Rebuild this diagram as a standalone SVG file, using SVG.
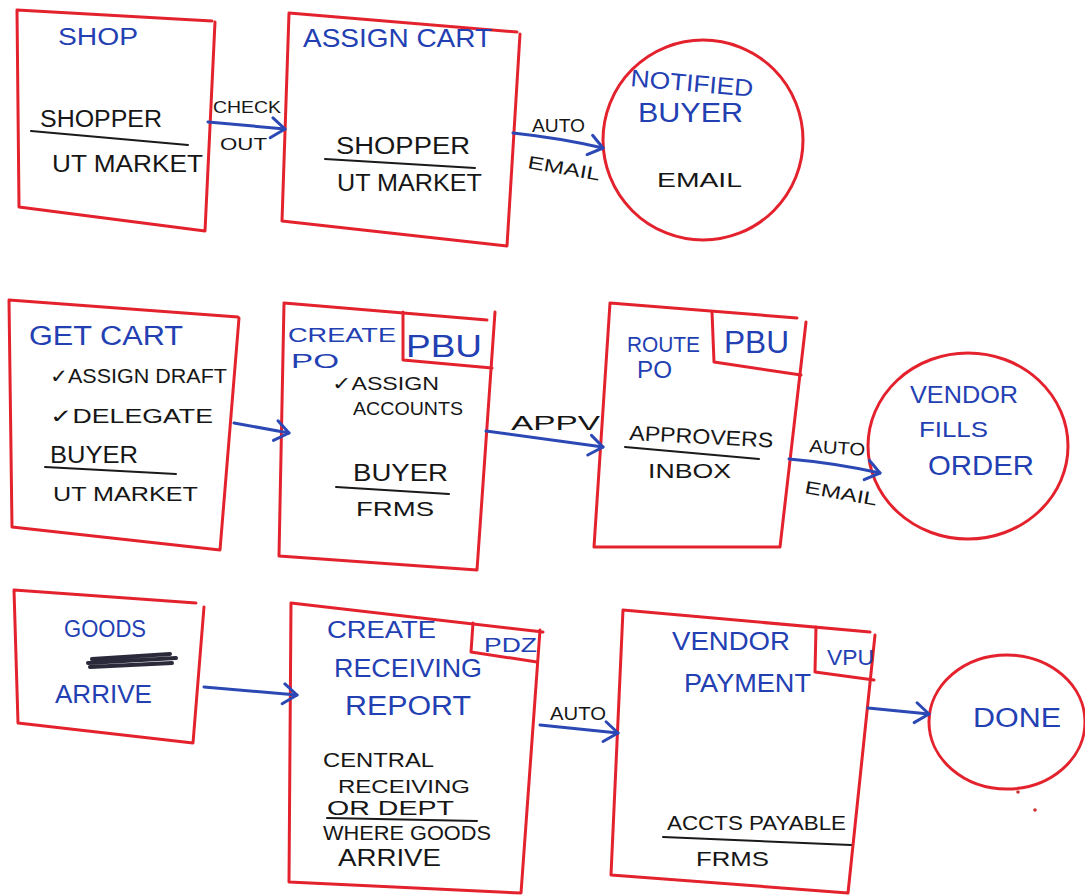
<svg xmlns="http://www.w3.org/2000/svg" width="1085" height="896" viewBox="0 0 1085 896">
<defs>
<style>
.box{fill:none;stroke:#e3222d;stroke-width:3;stroke-linejoin:round;stroke-linecap:round}
.ul{fill:none;stroke:#1a1a1a;stroke-width:2;stroke-linecap:round}
.con{fill:none;stroke:#2b48b5;stroke-width:3;stroke-linecap:round}
text{font-family:"Liberation Sans","DejaVu Sans",sans-serif}
.b{fill:#2340b3}
.k{fill:#161616}
</style>
<marker id="ah" viewBox="0 0 20 24" refX="18" refY="12" markerWidth="20" markerHeight="24" markerUnits="userSpaceOnUse" orient="auto">
<path d="M5,2 L18,12 L4,22" fill="none" stroke="#2b48b5" stroke-width="3" stroke-linecap="round" stroke-linejoin="round"/>
</marker>
</defs>
<rect width="1085" height="896" fill="#ffffff"/>

<g id="shop">
<path class="box" d="M17,10 L212,21 M215,22 L205,231 L19,207 L17,10"/>
<text class="b" x="58" y="45" font-size="23" textLength="80" lengthAdjust="spacingAndGlyphs">SHOP</text>
<text class="k" x="40" y="127" font-size="23" textLength="122" lengthAdjust="spacingAndGlyphs">SHOPPER</text>
<path class="ul" d="M31,131 L188,145"/>
<text class="k" x="52" y="172" font-size="23" textLength="151" lengthAdjust="spacingAndGlyphs">UT MARKET</text>
</g>

<g id="assign-cart">
<path class="box" d="M289,13 L517,32 M520,34 L507,246 L282,221 L289,13"/>
<text class="b" x="303" y="47" font-size="26" textLength="189" lengthAdjust="spacingAndGlyphs">ASSIGN CART</text>
<text class="k" x="336" y="154" font-size="23" textLength="134" lengthAdjust="spacingAndGlyphs">SHOPPER</text>
<path class="ul" d="M325,159 L475,168"/>
<text class="k" x="337" y="191" font-size="23" textLength="145" lengthAdjust="spacingAndGlyphs">UT MARKET</text>
</g>

<g id="notified-buyer">
<ellipse class="box" cx="703" cy="140" rx="100" ry="100"/>
<text class="b" x="630" y="86" font-size="24" textLength="123" lengthAdjust="spacingAndGlyphs" transform="rotate(5 630 86)">NOTIFIED</text>
<text class="b" x="638" y="122" font-size="27" textLength="105" lengthAdjust="spacingAndGlyphs">BUYER</text>
<text class="k" x="657" y="187" font-size="20" textLength="85" lengthAdjust="spacingAndGlyphs">EMAIL</text>
</g>

<g id="get-cart">
<path class="box" d="M9,300 L238,317 M239,318 L220,550 L12,527 L9,300"/>
<text class="b" x="29" y="345" font-size="27" textLength="154" lengthAdjust="spacingAndGlyphs">GET CART</text>
<text class="k" x="50" y="383" font-size="20" textLength="177" lengthAdjust="spacingAndGlyphs">✓ASSIGN DRAFT</text>
<text class="k" x="50" y="423" font-size="20" textLength="163" lengthAdjust="spacingAndGlyphs">✓DELEGATE</text>
<text class="k" x="50" y="463" font-size="23" textLength="88" lengthAdjust="spacingAndGlyphs">BUYER</text>
<path class="ul" d="M45,467 L176,474"/>
<text class="k" x="53" y="501" font-size="21" textLength="145" lengthAdjust="spacingAndGlyphs">UT MARKET</text>
</g>

<g id="create-po">
<path class="box" d="M284,303 L487,320 M495,312 L477,570 L279,556 L284,303"/>
<path class="box" d="M403,312 L403,360 L492,368"/>
<text class="b" x="288" y="342" font-size="21" textLength="108" lengthAdjust="spacingAndGlyphs">CREATE</text>
<text class="b" x="291" y="368" font-size="20" textLength="48" lengthAdjust="spacingAndGlyphs">PO</text>
<text class="b" x="406" y="357" font-size="31" textLength="76" lengthAdjust="spacingAndGlyphs">PBU</text>
<text class="k" x="332" y="390" font-size="19" textLength="107" lengthAdjust="spacingAndGlyphs">✓ASSIGN</text>
<text class="k" x="353" y="415" font-size="19" textLength="110" lengthAdjust="spacingAndGlyphs">ACCOUNTS</text>
<text class="k" x="353" y="481" font-size="23" textLength="95" lengthAdjust="spacingAndGlyphs">BUYER</text>
<path class="ul" d="M336,487 L449,494"/>
<text class="k" x="356" y="516" font-size="21" textLength="78" lengthAdjust="spacingAndGlyphs">FRMS</text>
</g>

<g id="route-po">
<path class="box" d="M610,303 L797,318 M806,322 L780,547 L594,547 L610,303"/>
<path class="box" d="M712,312 L714,362 L801,375"/>
<text class="b" x="627" y="352" font-size="22" textLength="73" lengthAdjust="spacingAndGlyphs">ROUTE</text>
<text class="b" x="637" y="378" font-size="24" textLength="35" lengthAdjust="spacingAndGlyphs">PO</text>
<text class="b" x="724" y="353" font-size="31" textLength="65" lengthAdjust="spacingAndGlyphs">PBU</text>
<text class="k" x="629" y="440" font-size="21" textLength="144" lengthAdjust="spacingAndGlyphs" transform="rotate(3 629 440)">APPROVERS</text>
<path class="ul" d="M625,447 L759,459"/>
<text class="k" x="648" y="478" font-size="21" textLength="83" lengthAdjust="spacingAndGlyphs">INBOX</text>
</g>

<g id="vendor-fills-order">
<ellipse class="box" cx="968" cy="446" rx="100" ry="93"/>
<text class="b" x="910" y="403" font-size="24" textLength="108" lengthAdjust="spacingAndGlyphs">VENDOR</text>
<text class="b" x="919" y="437" font-size="22" textLength="69" lengthAdjust="spacingAndGlyphs">FILLS</text>
<text class="b" x="928" y="475" font-size="28" textLength="106" lengthAdjust="spacingAndGlyphs">ORDER</text>
</g>

<g id="goods-arrive">
<path class="box" d="M14,590 L196,603 M204,607 L193,743 L18,723 L14,590"/>
<text class="b" x="64" y="637" font-size="23" textLength="82" lengthAdjust="spacingAndGlyphs">GOODS</text>
<path d="M88,663 L176,658 M90,667 L172,663 M92,659 L170,654" fill="none" stroke="#2a2a3a" stroke-width="4" stroke-linecap="round"/>
<text class="b" x="55" y="703" font-size="25" textLength="97" lengthAdjust="spacingAndGlyphs">ARRIVE</text>
</g>

<g id="create-receiving-report">
<path class="box" d="M291,603 L543,632 M540,630 L521,893 L289,882 L291,603"/>
<path class="box" d="M473,623 L471,652 L537,662"/>
<text class="b" x="327" y="638" font-size="23" textLength="109" lengthAdjust="spacingAndGlyphs">CREATE</text>
<text class="b" x="334" y="677" font-size="25" textLength="148" lengthAdjust="spacingAndGlyphs">RECEIVING</text>
<text class="b" x="345" y="715" font-size="27" textLength="126" lengthAdjust="spacingAndGlyphs">REPORT</text>
<text class="b" x="484" y="652" font-size="20" textLength="53" lengthAdjust="spacingAndGlyphs">PDZ</text>
<text class="k" x="323" y="767" font-size="21" textLength="111" lengthAdjust="spacingAndGlyphs">CENTRAL</text>
<text class="k" x="338" y="793" font-size="19" textLength="132" lengthAdjust="spacingAndGlyphs">RECEIVING</text>
<text class="k" x="327" y="815" font-size="20" textLength="127" lengthAdjust="spacingAndGlyphs">OR DEPT</text>
<path class="ul" d="M327,818 L477,821"/>
<text class="k" x="323" y="840" font-size="20" textLength="168" lengthAdjust="spacingAndGlyphs">WHERE GOODS</text>
<text class="k" x="338" y="866" font-size="23" textLength="103" lengthAdjust="spacingAndGlyphs">ARRIVE</text>
</g>

<g id="vendor-payment">
<path class="box" d="M623,610 L870,632 M875,635 L848,893 L611,875 L623,610"/>
<path class="box" d="M816,627 L815,672 L874,680"/>
<text class="b" x="672" y="650" font-size="25" textLength="118" lengthAdjust="spacingAndGlyphs">VENDOR</text>
<text class="b" x="684" y="692" font-size="25" textLength="127" lengthAdjust="spacingAndGlyphs">PAYMENT</text>
<text class="b" x="827" y="665" font-size="22" textLength="47" lengthAdjust="spacingAndGlyphs">VPU</text>
<text class="k" x="667" y="830" font-size="21" textLength="179" lengthAdjust="spacingAndGlyphs">ACCTS PAYABLE</text>
<path class="ul" d="M663,837 L851,845"/>
<text class="k" x="696" y="866" font-size="21" textLength="73" lengthAdjust="spacingAndGlyphs">FRMS</text>
</g>

<g id="done">
<ellipse class="box" cx="1007" cy="722" rx="78" ry="67"/>
<text class="b" x="973" y="727" font-size="27" textLength="88" lengthAdjust="spacingAndGlyphs">DONE</text>
<circle cx="1018" cy="792" r="1.8" fill="#c33"/>
<circle cx="1035" cy="810" r="1.8" fill="#c33"/>
</g>

<g id="connectors">
<path class="con" d="M208,122 L285,129" marker-end="url(#ah)"/>
<text class="k" x="213" y="113" font-size="17" textLength="68" lengthAdjust="spacingAndGlyphs">CHECK</text>
<text class="k" x="220" y="150" font-size="17" textLength="47" lengthAdjust="spacingAndGlyphs">OUT</text>

<path class="con" d="M513,133 Q560,138 603,148" marker-end="url(#ah)"/>
<text class="k" x="532" y="132" font-size="18" textLength="53" lengthAdjust="spacingAndGlyphs">AUTO</text>
<text class="k" x="527" y="168" font-size="18" textLength="73" lengthAdjust="spacingAndGlyphs" transform="rotate(10 527 168)">EMAIL</text>

<path class="con" d="M234,423 L289,433" marker-end="url(#ah)"/>

<path class="con" d="M486,431 L603,447" marker-end="url(#ah)"/>
<text class="k" x="511" y="430" font-size="20" textLength="89" lengthAdjust="spacingAndGlyphs">APPV</text>

<path class="con" d="M789,459 Q835,463 880,473" marker-end="url(#ah)"/>
<text class="k" x="809" y="452" font-size="18" textLength="56" lengthAdjust="spacingAndGlyphs" transform="rotate(4 809 452)">AUTO</text>
<text class="k" x="804" y="493" font-size="18" textLength="73" lengthAdjust="spacingAndGlyphs" transform="rotate(10 804 493)">EMAIL</text>

<path class="con" d="M204,687 L297,695" marker-end="url(#ah)"/>

<path class="con" d="M540,725 L618,733" marker-end="url(#ah)"/>
<text class="k" x="550" y="720" font-size="18" textLength="56" lengthAdjust="spacingAndGlyphs">AUTO</text>

<path class="con" d="M868,708 L929,714" marker-end="url(#ah)"/>
</g>
</svg>
